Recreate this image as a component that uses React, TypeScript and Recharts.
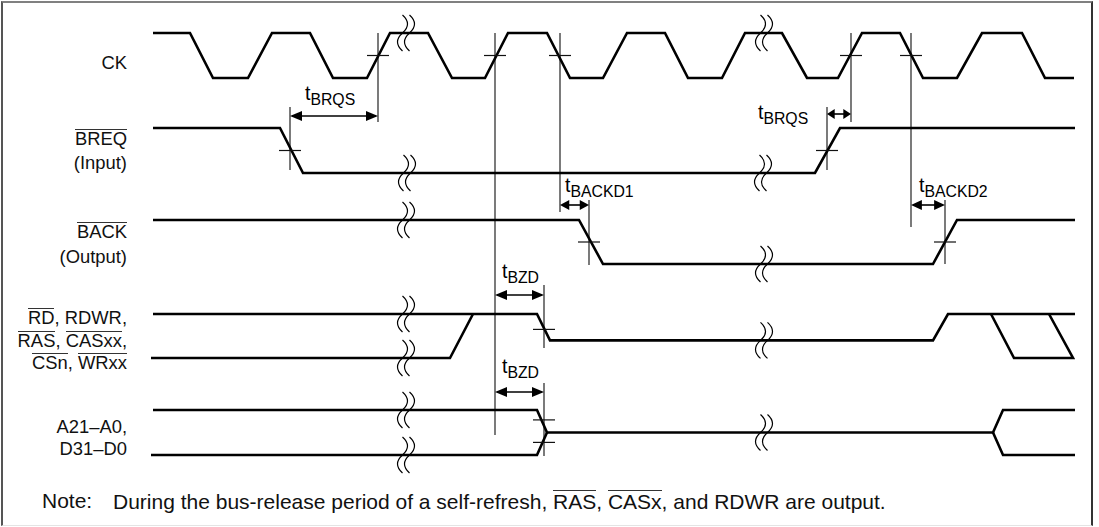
import React from 'react';
import { ComposedChart, Line, Scatter, XAxis, YAxis, ReferenceLine } from 'recharts';

const W = 1099;
const H = 527;
const FONT = '"Liberation Sans", Arial, Helvetica, sans-serif';

// waveforms as [time, level]; level 1 = high, 0 = low, in between = high-Z
const ckWave = [
  [153, 1], [190, 1], [213, 0], [248, 0], [272, 1], [310, 1], [333, 0], [367, 0],
  [390, 1], [428, 1], [452, 0], [485, 0], [508, 1], [547, 1], [570, 0], [603, 0],
  [627, 1], [665, 1], [688, 0], [722, 0], [745, 1], [782, 1], [807, 0], [838, 0],
  [862, 1], [900, 1], [923, 0], [957, 0], [982, 1], [1022, 1], [1045, 0], [1074, 0],
];
const breqWave = [[153, 1], [280, 1], [303, 0], [815, 0], [840, 1], [1075, 1]];
const backWave = [[153, 1], [579, 1], [603, 0], [933, 0], [957, 1], [1075, 1]];
const ctrlHigh = [[153, 1], [537, 1], [550, 0.4], [933, 0.4], [948, 1], [1075, 1]];
const ctrlLow = [[151, 0], [450, 0], [473, 1]];
const ctrlTail = [[991, 1], [1014, 0], [1073, 0], [1049, 1]];
const addrHigh = [[153, 1], [537, 1], [547, 0.5], [993, 0.5], [1003, 1], [1075, 1]];
const addrLow = [[151, 0], [537, 0], [547, 0.5]];
const addrTail = [[993, 0.5], [1003, 0], [1075, 0]];

// break marks and edge crossings: [time, lane, level]
const breaks = [
  [406, 'ck', 1], [407, 'breq', 0], [406, 'back', 1], [406, 'ctrl', 1], [406, 'ctrl', 0],
  [406, 'addr', 1], [406, 'addr', 0],
  [764, 'ck', 1], [763, 'breq', 0], [764, 'back', 0], [764, 'ctrl', 0.4], [764, 'addr', 0.5],
];
const crossings = [
  [378, 'ck', 0.5], [495, 'ck', 0.5], [560, 'ck', 0.5], [851, 'ck', 0.5], [911, 'ck', 0.5],
  [290, 'breq', 0.5], [827, 'breq', 0.5], [589, 'back', 0.5], [945, 'back', 0.5],
  [544, 'ctrl', 0.65], [544, 'addr', 0.78], [544, 'addr', 0.28],
];

// lane layout: [high y, low y] in axis units
const lanes: Record<string, [number, number]> = {
  ck: [33, 78],
  breq: [128, 173],
  back: [220, 264],
  ctrl: [314, 358],
  addr: [410, 455],
};

const levelY = (lane: string, level: number) => {
  const [hi, lo] = lanes[lane];
  return hi + (1 - level) * (lo - hi);
};
const toPoints = (wave: number[][], lane: string) => wave.map(([t, lv]) => ({ t, y: levelY(lane, lv) }));
const toMarks = (list: any[]) => list.map(([t, lane, lv]) => ({ t, y: levelY(lane, lv) }));

const series = [
  { key: 'ck', lane: 'ck', wave: ckWave },
  { key: 'breq', lane: 'breq', wave: breqWave },
  { key: 'back', lane: 'back', wave: backWave },
  { key: 'ctrlHigh', lane: 'ctrl', wave: ctrlHigh },
  { key: 'ctrlLow', lane: 'ctrl', wave: ctrlLow },
  { key: 'ctrlTail', lane: 'ctrl', wave: ctrlTail },
  { key: 'addrHigh', lane: 'addr', wave: addrHigh },
  { key: 'addrLow', lane: 'addr', wave: addrLow },
  { key: 'addrTail', lane: 'addr', wave: addrTail },
];

// timing guides: time, y extent
const guides = [
  { t: 290, from: 107, to: 170 },
  { t: 378, from: 33, to: 122 },
  { t: 495, from: 33, to: 435 },
  { t: 560, from: 33, to: 212 },
  { t: 589, from: 200, to: 265 },
  { t: 544, from: 285, to: 348 },
  { t: 544, from: 383, to: 456 },
  { t: 827, from: 107, to: 170 },
  { t: 851, from: 33, to: 122 },
  { t: 911, from: 33, to: 227 },
  { t: 945, from: 200, to: 264 },
];

const arrows = [
  { t1: 290, t2: 378, y: 116, sub: 'BRQS', dx: 15, dy: -16 },
  { t1: 827, t2: 851, y: 114, sub: 'BRQS', dx: -69, dy: 5 },
  { t1: 560, t2: 589, y: 205, sub: 'BACKD1', dx: 5, dy: -13 },
  { t1: 911, t2: 945, y: 205, sub: 'BACKD2', dx: 8, dy: -13 },
  { t1: 495, t2: 544, y: 295, sub: 'BZD', dx: 7, dy: -17 },
  { t1: 495, t2: 544, y: 392, sub: 'BZD', dx: 7, dy: -19 },
];

const BreakMark = (props: any) => {
  const { cx, cy } = props;
  const s = (x: number) =>
    `M${x},${cy - 18} Q${x + 10},${cy - 9} ${x},${cy} Q${x - 10},${cy + 9} ${x},${cy + 18}`;
  return (
    <g fill="none" stroke="#000" strokeWidth={1.2}>
      <path d={s(cx - 3.5)} />
      <path d={s(cx + 3.5)} />
    </g>
  );
};

const CrossTick = (props: any) => {
  const { cx, cy } = props;
  return <line x1={cx - 11} x2={cx + 11} y1={cy} y2={cy} stroke="#111" strokeWidth={1.2} />;
};

const makeArrow = (a: any) => (p: any) => {
  const { x1, y1, x2 } = p;
  const len = Math.abs(x2 - x1);
  const hl = Math.min(12, len * 0.32);
  const hw = 5;
  return (
    <g>
      <line x1={x1 + 2} x2={x2 - 2} y1={y1} y2={y1} stroke="#000" strokeWidth={1.6} />
      <polygon points={`${x1},${y1} ${x1 + hl},${y1 - hw} ${x1 + hl},${y1 + hw}`} fill="#000" />
      <polygon points={`${x2},${y1} ${x2 - hl},${y1 - hw} ${x2 - hl},${y1 + hw}`} fill="#000" />
      <text x={x1 + a.dx} y={y1 + a.dy} fontFamily={FONT} fontSize={19.5} fill="#000">
        t<tspan fontSize={15.8} dy={4.5}>{a.sub}</tspan>
      </text>
    </g>
  );
};

// overline drawn as a border so it sits just above the capitals
const O = ({ children }: { children: React.ReactNode }) => (
  <span style={{ display: 'inline-block', borderTop: '1px solid #333', lineHeight: 'inherit' }}>{children}</span>
);

const LABEL_F = 18.4;
const NOTE_F = 21;
const rowLabels: { y: number; text: React.ReactNode }[] = [
  { y: 63, text: 'CK' },
  { y: 138, text: <O>BREQ</O> },
  { y: 163, text: '(Input)' },
  { y: 231, text: <O>BACK</O> },
  { y: 257, text: '(Output)' },
  { y: 317, text: <><O>RD</O>, RDWR,</> },
  { y: 340, text: <><O>RAS</O>, <O>CASxx</O>,</> },
  { y: 362, text: <><O>CSn</O>, <O>WRxx</O></> },
  { y: 427, text: 'A21–A0,' },
  { y: 449, text: 'D31–D0' },
];

export default function App() {
  return (
    <div style={{ position: 'absolute', left: 0, top: 0, width: W, height: H, background: '#fff', fontFamily: FONT }}>
      <div
        style={{
          position: 'absolute', left: 1, top: 1, width: 1092, height: 525, boxSizing: 'border-box',
          borderLeft: '2px solid #555', borderTop: '2px solid #808080',
          borderRight: '2px solid #333', borderBottom: '1px solid #e4e4e4',
        }}
      />
      <div style={{ position: 'absolute', left: 0, top: 0 }}>
        <ComposedChart width={W} height={H} margin={{ top: 0, right: 0, bottom: 0, left: 0 }}>
          <XAxis type="number" dataKey="t" domain={[0, W]} hide />
          <YAxis type="number" dataKey="y" domain={[0, H]} reversed hide />
          {guides.map((g, i) => (
            <ReferenceLine
              key={'g' + i}
              segment={[{ x: g.t, y: g.from }, { x: g.t, y: g.to }]}
              stroke="#222"
              strokeWidth={1.2}
            />
          ))}
          {series.map((s) => (
            <Line
              key={s.key}
              data={toPoints(s.wave, s.lane)}
              dataKey="y"
              type="linear"
              stroke="#000"
              strokeWidth={2.6}
              dot={false}
              activeDot={false}
              isAnimationActive={false}
            />
          ))}
          <Scatter data={toMarks(breaks)} shape={BreakMark} isAnimationActive={false} />
          <Scatter data={toMarks(crossings)} shape={CrossTick} isAnimationActive={false} />
          {arrows.map((a, i) => (
            <ReferenceLine
              key={'a' + i}
              segment={[{ x: a.t1, y: a.y }, { x: a.t2, y: a.y }]}
              shape={makeArrow(a)}
            />
          ))}
        </ComposedChart>
      </div>
      {rowLabels.map((l, i) => (
        <div
          key={i}
          style={{
            position: 'absolute', left: 0, width: 127, top: l.y - LABEL_F / 2, textAlign: 'right',
            fontSize: LABEL_F, lineHeight: `${LABEL_F}px`, color: '#111', whiteSpace: 'nowrap',
          }}
        >
          {l.text}
        </div>
      ))}
      <div style={{ position: 'absolute', left: 42, top: 500 - NOTE_F / 2, fontSize: NOTE_F, lineHeight: `${NOTE_F}px`, color: '#111' }}>
        Note:
      </div>
      <div style={{ position: 'absolute', left: 113, top: 500 - NOTE_F / 2, fontSize: NOTE_F, lineHeight: `${NOTE_F}px`, color: '#111', whiteSpace: 'nowrap' }}>
        During the bus-release period of a self-refresh, <O>RAS</O>, <O>CASx</O>, and RDWR are output.
      </div>
    </div>
  );
}
